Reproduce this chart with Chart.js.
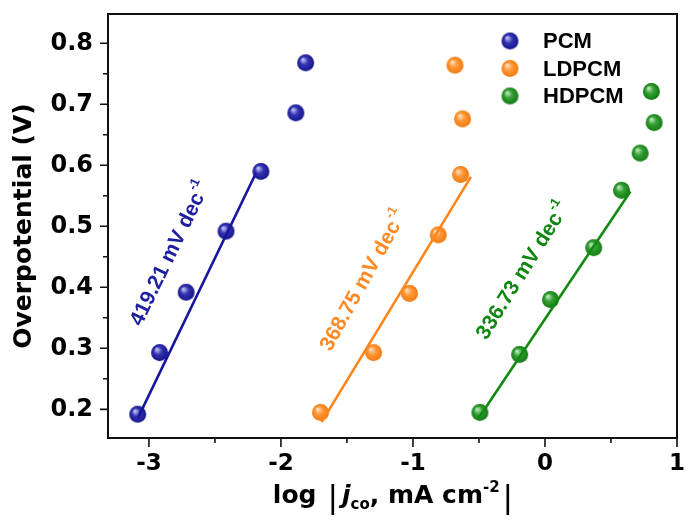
<!DOCTYPE html>
<html><head><meta charset="utf-8">
<script src="https://cdn.jsdelivr.net/npm/chart.js@4"></script>
<style>html,body{margin:0;padding:0;background:#fff}#wrap{width:686px;height:522px}</style>
</head><body><div id="wrap"><canvas id="c" width="686" height="522"></canvas></div>
<script>
// ---- data ----
const seriesNames = ['PCM', 'LDPCM', 'HDPCM'];
const pcmX = [-3.085, -2.919, -2.718, -2.416, -2.152, -1.887, -1.813];
const pcmY = [0.192, 0.293, 0.392, 0.492, 0.590, 0.686, 0.768];
const ldpcmX = [-1.700, -1.298, -1.026, -0.808, -0.639, -0.624, -0.682];
const ldpcmY = [0.195, 0.293, 0.390, 0.486, 0.585, 0.676, 0.764];
const hdpcmX = [-0.493, -0.192, 0.042, 0.369, 0.580, 0.721, 0.827, 0.806];
const hdpcmY = [0.195, 0.290, 0.380, 0.465, 0.559, 0.620, 0.670, 0.721];
const pcmFitX = [-3.083, -2.190];
const pcmFitY = [0.186, 0.587];
const ldpcmFitX = [-1.692, -0.561];
const ldpcmFitY = [0.179, 0.581];
const hdpcmFitX = [-0.507, 0.647];
const hdpcmFitY = [0.184, 0.557];
const slopeTexts = ['419.21 mV dec', '368.75 mV dec', '336.73 mV dec'];
const slopeSup = '-1';
const slopeTextX = [-2.845, -1.380, -0.172];
const slopeTextY = [0.456, 0.412, 0.428];
const xTicks = [-3, -2, -1, 0, 1];
const xTickLabels = ['-3', '-2', '-1', '0', '1'];
const xMinorTicks = [-2.5, -1.5, -0.5, 0.5];
const yTicks = [0.2, 0.3, 0.4, 0.5, 0.6, 0.7, 0.8];
const yTickLabels = ['0.2', '0.3', '0.4', '0.5', '0.6', '0.7', '0.8'];
const yMinorTicks = [0.25, 0.35, 0.45, 0.55, 0.65, 0.75];
const yTitle = 'Overpotential (V)';
const xTitleParts = ['log', '|', 'j', 'co', ', mA cm', '-2', '|'];

// ---- styles ----
const AX_FONT = 'DejaVu Sans';
const TXT_FONT = '"Liberation Sans", Arial, sans-serif';
const colors = [
  {base: '#3434b4', light: '#c8c8f4', dark: '#15158a', line: '#16169c', text: '#1e1ea0'},
  {base: '#ff9838', light: '#ffe0c0', dark: '#f07a10', line: '#ff8518', text: '#ff8a24'},
  {base: '#35a035', light: '#c0eac0', dark: '#137a13', line: '#128a12', text: '#0f860f'}
];
function sphere(r, c) {
  const cv = document.createElement('canvas');
  const s = Math.ceil(r * 2 + 2);
  cv.width = s; cv.height = s;
  const g = cv.getContext('2d');
  const cx = s / 2, cy = s / 2;
  const grd = g.createRadialGradient(cx - r * 0.35, cy - r * 0.4, r * 0.05, cx, cy, r);
  grd.addColorStop(0, c.light);
  grd.addColorStop(0.45, c.base);
  grd.addColorStop(1, c.dark);
  g.fillStyle = grd;
  g.beginPath(); g.arc(cx, cy, r, 0, Math.PI * 2); g.fill();
  return cv;
}
const spheres = colors.map(c => sphere(8.5, c));

const toPts = (xs, ys) => xs.map((x, i) => ({x: x, y: ys[i]}));
const scatterSets = [[pcmX, pcmY], [ldpcmX, ldpcmY], [hdpcmX, hdpcmY]].map((d, i) => ({
  type: 'scatter', label: seriesNames[i], data: toPts(d[0], d[1]),
  pointStyle: spheres[i], pointRadius: 8, order: 2
}));
const fitSets = [[pcmFitX, pcmFitY], [ldpcmFitX, ldpcmFitY], [hdpcmFitX, hdpcmFitY]].map((d, i) => ({
  type: 'line', label: seriesNames[i] + ' fit', data: toPts(d[0], d[1]),
  borderColor: colors[i].line, borderWidth: 2.6, pointRadius: 0, showLine: true, fill: false, order: 1
}));

const extras = {
  id: 'extras',
  afterDraw(chart) {
    const ctx = chart.ctx, a = chart.chartArea;
    const xs = chart.scales.x, ys = chart.scales.y;
    ctx.save();
    // frame
    ctx.strokeStyle = '#111'; ctx.lineWidth = 2;
    ctx.strokeRect(a.left, a.top, a.right - a.left, a.bottom - a.top);
    // ticks
    ctx.lineWidth = 1.6;
    ctx.beginPath();
    xTicks.forEach(v => { const p = xs.getPixelForValue(v); ctx.moveTo(p, a.bottom); ctx.lineTo(p, a.bottom + 9); });
    xMinorTicks.forEach(v => { const p = xs.getPixelForValue(v); ctx.moveTo(p, a.bottom); ctx.lineTo(p, a.bottom + 5); });
    yTicks.forEach(v => { const p = ys.getPixelForValue(v); ctx.moveTo(a.left, p); ctx.lineTo(a.left - 8, p); });
    yMinorTicks.forEach(v => { const p = ys.getPixelForValue(v); ctx.moveTo(a.left, p); ctx.lineTo(a.left - 5, p); });
    ctx.stroke();
    // legend
    ctx.font = 'bold 22px ' + TXT_FONT;
    ctx.textBaseline = 'middle'; ctx.textAlign = 'left'; ctx.fillStyle = '#000';
    seriesNames.forEach((n, i) => {
      const mx = a.right - 167, my = a.top + 27 + i * 27.5;
      const img = spheres[i];
      ctx.drawImage(img, mx - img.width / 2, my - img.height / 2);
      ctx.fillText(n, mx + 33, my + 1);
    });
    // slope annotations
    const angles = [64, 61, 58];
    slopeTexts.forEach((t, i) => {
      const px = xs.getPixelForValue(slopeTextX[i]), py = ys.getPixelForValue(slopeTextY[i]);
      ctx.save();
      ctx.translate(px, py); ctx.rotate(-angles[i] * Math.PI / 180);
      ctx.fillStyle = colors[i].text;
      ctx.font = 'bold 21px ' + TXT_FONT;
      const w1 = ctx.measureText(t).width;
      ctx.font = 'bold 13px ' + TXT_FONT;
      const w2 = ctx.measureText(slopeSup).width;
      const x0 = -(w1 + w2 + 1) / 2;
      ctx.textBaseline = 'alphabetic';
      ctx.font = 'bold 21px ' + TXT_FONT;
      ctx.fillText(t, x0, 7);
      ctx.font = 'bold 13px ' + TXT_FONT;
      ctx.fillText(slopeSup, x0 + w1 + 1, -4);
      ctx.restore();
    });
    // x title
    const big = 'bold 25px ' + AX_FONT, small = 'bold 15px ' + AX_FONT;
    const bar = '33px ' + TXT_FONT, ital = 'italic bold 25px ' + AX_FONT;
    const segs = [
      {t: xTitleParts[0], f: big, dy: 0, after: 12},
      {t: xTitleParts[1], f: bar, dy: 5, after: 5},
      {t: xTitleParts[2], f: ital, dy: 0, after: 0},
      {t: xTitleParts[3], f: small, dy: 6, after: 0},
      {t: xTitleParts[4], f: big, dy: 0, after: 0},
      {t: xTitleParts[5], f: small, dy: -11, after: 4},
      {t: xTitleParts[6], f: bar, dy: 5, after: 0}
    ];
    let total = 0;
    segs.forEach(s => { ctx.font = s.f; s.w = ctx.measureText(s.t).width; total += s.w + s.after; });
    let x = (a.left + a.right) / 2 - total / 2;
    const base = 503;
    ctx.fillStyle = '#000'; ctx.textBaseline = 'alphabetic'; ctx.textAlign = 'left';
    segs.forEach(s => { ctx.font = s.f; ctx.fillText(s.t, x, base + s.dy); x += s.w + s.after; });
    ctx.restore();
  }
};

new Chart(document.getElementById('c'), {
  data: {datasets: [...fitSets, ...scatterSets]},
  options: {
    responsive: false, animation: false, devicePixelRatio: 1,
    layout: {padding: {left: 0, right: 6, top: 14, bottom: 0}},
    plugins: {legend: {display: false}, tooltip: {enabled: false}},
    scales: {
      x: {
        type: 'linear', min: -3.31, max: 1,
        grid: {display: false, drawTicks: false}, border: {display: false},
        ticks: {
          font: {family: AX_FONT, size: 23, weight: 'bold'}, color: '#000', padding: 12,
          maxRotation: 0, autoSkip: false,
          callback: (v) => { const k = xTicks.indexOf(v); return k >= 0 ? xTickLabels[k] : ''; }
        },
        afterBuildTicks: s => { s.ticks = xTicks.map(v => ({value: v})); },
        afterFit: s => { s.height = 84; s.paddingLeft = 0; s.paddingRight = 0; }
      },
      y: {
        type: 'linear', min: 0.153, max: 0.848,
        grid: {display: false, drawTicks: false}, border: {display: false},
        ticks: {
          font: {family: AX_FONT, size: 24, weight: 'bold'}, color: '#000', padding: 15,
          callback: (v) => { const k = yTicks.findIndex(t => Math.abs(t - v) < 1e-9); return k >= 0 ? yTickLabels[k] : ''; }
        },
        afterBuildTicks: s => { s.ticks = yTicks.map(v => ({value: v})); },
        afterFit: s => { s.width = 108; s.paddingTop = 0; s.paddingBottom = 0; },
        title: {display: true, text: yTitle, color: '#000', font: {family: AX_FONT, size: 25, weight: 'bold'}, padding: {top: 9, bottom: 0}}
      }
    }
  },
  plugins: [extras]
});
</script>
</body></html>
